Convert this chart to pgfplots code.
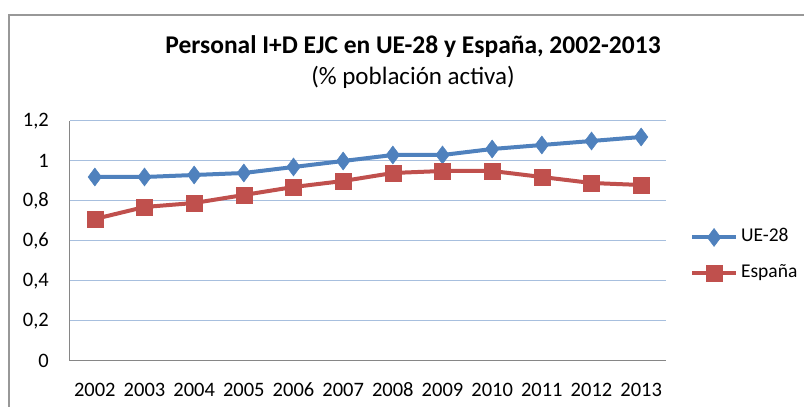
\documentclass[border=0pt]{standalone}
\usepackage{fontspec}
\setmainfont{Carlito}
\usepackage{pgfplots}
\pgfplotsset{compat=1.18}
\definecolor{ueblue}{HTML}{4F81BD}
\definecolor{esred}{HTML}{C0504D}
\definecolor{gridc}{HTML}{A7BFDE}
\definecolor{axc}{HTML}{868686}
\definecolor{framec}{HTML}{989898}
\begin{document}
\begin{tikzpicture}
\useasboundingbox (0pt,0pt) rectangle (804pt,407pt);
\draw[framec, line width=2pt] (9pt,0pt) -- (9pt,392pt) -- (804pt,392pt);
\node[anchor=base, font=\fontsize{25.5}{30}\selectfont\bfseries] at (413pt,353pt) {Personal I+D EJC en UE-28 y España, 2002-2013};
\node[anchor=base, font=\fontsize{25}{30}\selectfont] at (413pt,322pt) {(\% población activa)};
\begin{axis}[
  at={(70pt,46pt)}, anchor=south west, scale only axis,
  width=596pt, height=240pt,
  xmin=-0.5, xmax=11.5, ymin=0, ymax=1.2,
  ytick={0,0.2,0.4,0.6,0.8,1,1.2},
  xtick={0,...,11},
  xticklabels={2002,2003,2004,2005,2006,2007,2008,2009,2010,2011,2012,2013},
  axis x line*=bottom, axis y line*=left,
  axis line style={axc, line width=1pt},
  major tick length=0pt,
  ymajorgrids, grid style={gridc, line width=1pt},
  tick label style={font=\fontsize{20.5}{24}\selectfont, inner sep=0pt},
  xticklabel style={anchor=base, yshift=-36pt},
  yticklabel style={anchor=east, xshift=-21pt},
  /pgf/number format/.cd, use comma, 1000 sep={}, assume math mode=true,
  /pgfplots/.cd,
  legend style={draw=none, fill=none, at={(1.035,0.4417)}, anchor=west,
    font=\fontsize{19.5}{24}\selectfont, row sep=18pt, column sep=3pt,
    nodes={inner sep=0pt, text height=13pt, text depth=4pt}},
  legend cell align=left,
  legend image code/.code={\draw[#1, mark repeat=2, mark phase=2] plot coordinates {(0pt,0pt) (22pt,0pt) (44pt,0pt)};},
]
\addplot[ueblue, line width=4pt, mark=diamond*, mark size=9pt, mark options={solid, line width=0.5pt}]
  coordinates {(0,0.92) (1,0.92) (2,0.93) (3,0.94) (4,0.97) (5,1.00) (6,1.03) (7,1.03) (8,1.06) (9,1.08) (10,1.10) (11,1.12)};
\addlegendentry{UE-28}
\addplot[esred, line width=4pt, mark=square*, mark size=8pt, mark options={solid, line width=0.5pt}]
  coordinates {(0,0.71) (1,0.77) (2,0.79) (3,0.83) (4,0.87) (5,0.90) (6,0.94) (7,0.95) (8,0.95) (9,0.92) (10,0.89) (11,0.88)};
\addlegendentry{España}
\end{axis}
\end{tikzpicture}
\end{document}
